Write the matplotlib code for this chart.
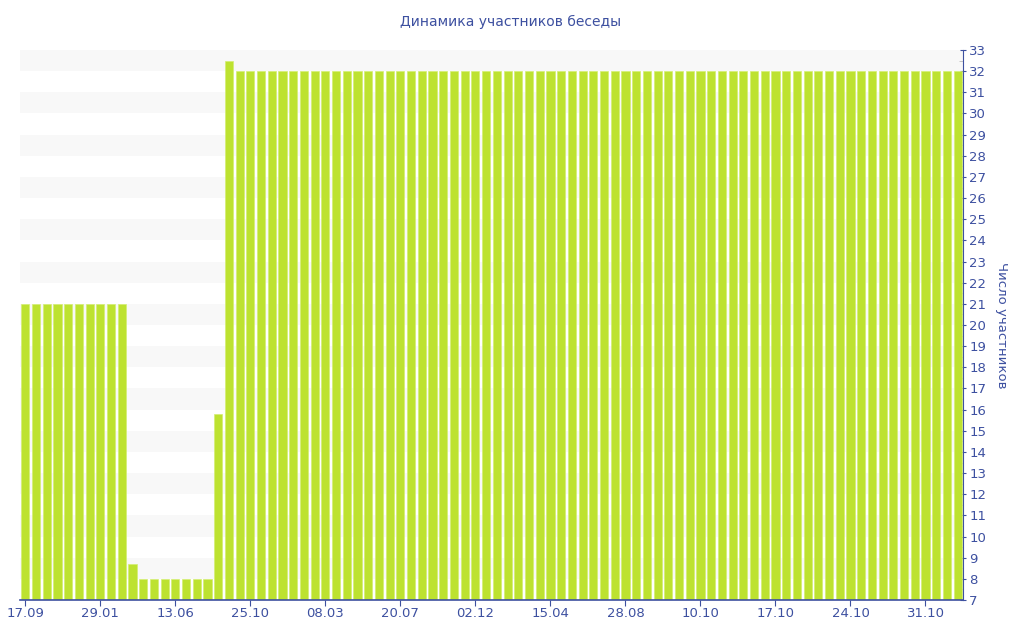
import matplotlib
matplotlib.use("Agg")
import matplotlib.pyplot as plt
import numpy as np

# Data
values = [21] * 10 + [8.7] + [8] * 7 + [15.8, 32.5] + [32] * 68
tick_every = 7
tick_labels = ["17.09", "29.01", "13.06", "25.10", "08.03", "20.07", "02.12",
               "15.04", "28.08", "10.10", "17.10", "24.10", "31.10"]
title = "Динамика участников беседы"
ylabel = "Число участников"

text_color = "#3d50a0"
bar_color = "#bde230"

fig = plt.figure(figsize=(10.24, 6.4), dpi=100)
ax = fig.add_axes([20 / 1024, 40 / 640, (963 - 20) / 1024, 550 / 640])

ymin, ymax = 7, 33
x = np.arange(len(values))
ax.set_xlim(-0.5, len(values) - 0.5)
ax.set_ylim(ymin, ymax)

# alternating bands
for y0 in range(ymin, ymax):
    if y0 % 2 == 0:
        ax.axhspan(y0, y0 + 1, color="#f8f8f8", zorder=0, lw=0)

ax.bar(x, np.array(values) - ymin, bottom=ymin, width=0.76, color=bar_color,
       edgecolor="#d4ee72", linewidth=0.5, zorder=2)

for s in ["left", "top", "right"]:
    ax.spines[s].set_visible(False)
ax.spines["bottom"].set_color(text_color)
ax.spines["bottom"].set_linewidth(1.2)

ax.yaxis.tick_right()
ax.yaxis.set_label_position("right")
ax.spines["right"].set_visible(True)
ax.spines["right"].set_color(text_color)
ax.set_yticks(range(ymin, ymax + 1))
ax.set_yticks(np.arange(ymin + 0.5, ymax, 1), minor=True)
ax.tick_params(axis="y", which="major", colors=text_color, labelsize=9.5,
               length=5, direction="inout", pad=2)
ax.tick_params(axis="y", which="minor", color="#bbbbbb", length=3, direction="in")
ax.set_ylabel(ylabel, color=text_color, fontsize=9.5, rotation=-90, labelpad=16)

ticks = list(range(0, len(values), tick_every))[:len(tick_labels)]
ax.set_xticks(ticks)
ax.set_xticklabels(tick_labels)
ax.tick_params(axis="x", colors=text_color, labelsize=9.5, length=4,
               direction="out", pad=1)
for t in ax.xaxis.get_ticklines():
    t.set_color("#aaaaaa")

fig.text(511 / 1024, 1 - 22 / 640, title, ha="center", va="center",
         color=text_color, fontsize=10)

fig.savefig("out.png", dpi=100)
